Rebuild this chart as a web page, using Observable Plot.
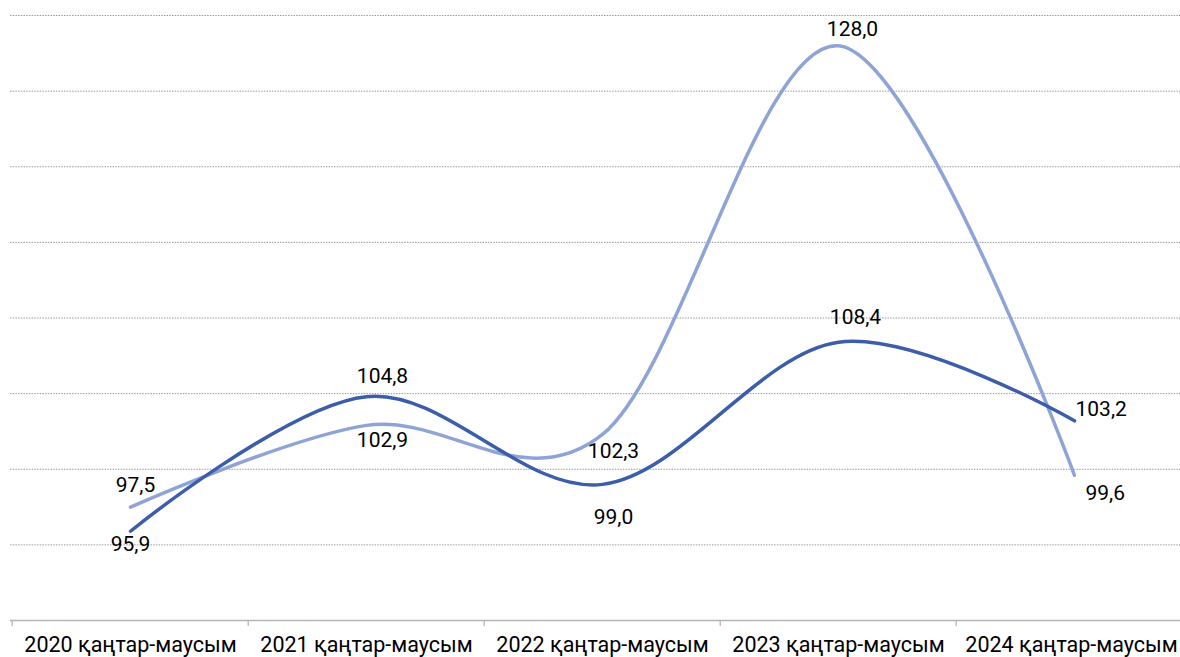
<!DOCTYPE html>
<html>
<head>
<meta charset="utf-8">
<script src="https://cdn.jsdelivr.net/npm/d3@7"></script>
<script src="https://cdn.jsdelivr.net/npm/@observablehq/plot@0.6"></script>
<style>
  html, body { margin: 0; padding: 0; background: #fff; }
  #chart { width: 1180px; height: 657px; font-family: Roboto, "Noto Sans", sans-serif; }
  #chart svg { display: block; }
</style>
</head>
<body>
<div id="chart"></div>
<script>
const categories = ["2020 қаңтар-маусым", "2021 қаңтар-маусым", "2022 қаңтар-маусым", "2023 қаңтар-маусым", "2024 қаңтар-маусым"];
const seriesDark = [95.9, 104.8, 99.0, 108.4, 103.2];
const seriesLight = [97.5, 102.9, 102.3, 128.0, 99.6];
const gridValues = [95, 100, 105, 110, 115, 120, 125, 130];

const darkColor = "#3C5DAA";
const lightColor = "#8FA4D6";

const dark = categories.map((c, i) => ({cat: c, value: seriesDark[i], i}));
const light = categories.map((c, i) => ({cat: c, value: seriesLight[i], i}));

// label offsets (layout only)
const darkOff = [[0, 13], [16, -20], [11, 33], [17, -25], [0, -12]];
const lightOff = [[5, -22], [16, 15], [11, 17], [14, -16], [0, 18]];
const darkAnchor = ["middle", "middle", "middle", "middle", "start"];
const lightAnchor = ["middle", "middle", "middle", "middle", "start"];
const darkLeftPad = [0, 0, 0, 0, 1];
const lightLeftPad = [0, 0, 0, 0, 11];

const fmt = v => v.toFixed(1).replace(".", ",");
const bw = (1193 - 10) / categories.length;

function labelMarks(data, offs, anchors, pads) {
  return data.map((d, k) => Plot.text([d], {
    x: "cat", y: "value", text: r => fmt(r.value),
    dx: offs[k][0] + pads[k], dy: offs[k][1],
    textAnchor: anchors[k], lineAnchor: "middle",
    fontSize: 21, fill: "#000"
  }));
}

const chart = Plot.plot({
  width: 1180,
  height: 657,
  marginTop: 15,
  marginBottom: 37,
  marginLeft: 10,
  marginRight: 0,
  style: {fontFamily: "Roboto, 'Noto Sans', sans-serif", background: "#fff", overflow: "visible"},
  x: {type: "band", domain: categories, range: [10, 1193], padding: 0},
  y: {domain: [90, 130], axis: null},
  marks: [
    Plot.ruleY(gridValues, {stroke: "#9a9a9a", strokeWidth: 1, strokeDasharray: "1.5,1.2"}),
    Plot.ruleY([90], {stroke: "#b4b4b4", strokeWidth: 1.3}),
    Plot.ruleX(categories, {x: d => d, dx: -bw / 2, y1: 90, y2: 90 - 6 * 40 / 605, stroke: "#b4b4b4", strokeWidth: 1.3}),
    Plot.axisX(categories.slice(0, 4), {tickSize: 0, tickPadding: 16, fontSize: 21.5, fill: "#000", label: null}),
    Plot.axisX(categories.slice(4), {tickSize: 0, tickPadding: 16, dx: -3, fontSize: 21.5, fill: "#000", label: null}),
    Plot.line(light, {x: "cat", y: "value", stroke: lightColor, strokeWidth: 3.5, curve: "cardinal", tension: 0}),
    Plot.line(dark, {x: "cat", y: "value", stroke: darkColor, strokeWidth: 3.5, curve: "cardinal", tension: 0}),
    ...labelMarks(dark, darkOff, darkAnchor, darkLeftPad),
    ...labelMarks(light, lightOff, lightAnchor, lightLeftPad)
  ]
});
document.getElementById("chart").appendChild(chart);
</script>
</body>
</html>
